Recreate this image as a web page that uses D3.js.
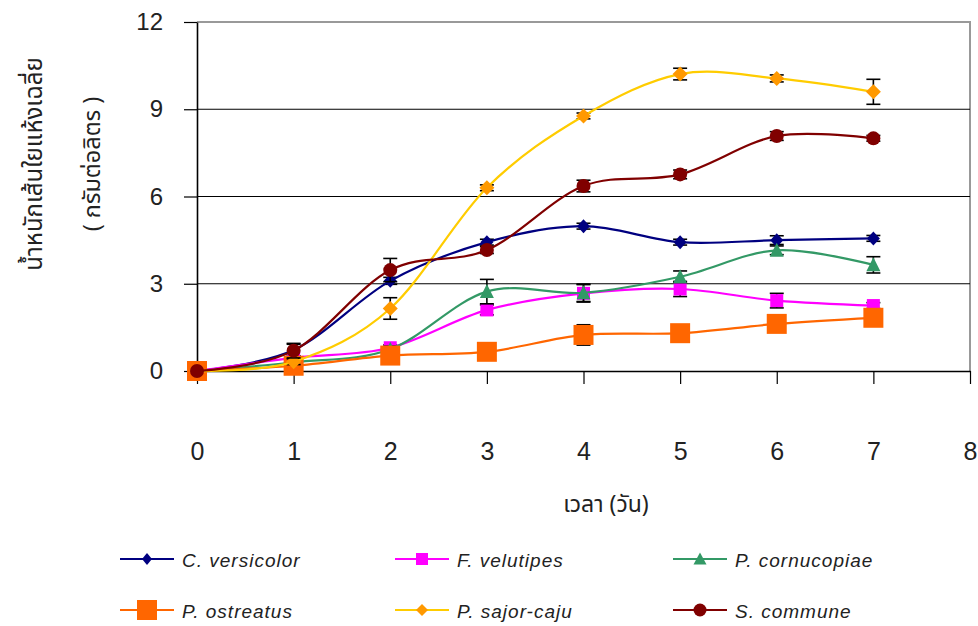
<!DOCTYPE html>
<html>
<head>
<meta charset="utf-8">
<script src="https://cdn.jsdelivr.net/npm/d3@7"></script>
<style>
  body { margin: 0; background: #fff; }
  svg { display: block; }
  .tickLbl { font-family: "Liberation Sans", Arial, sans-serif; fill: #222; }
  .legendTxt { font-family: "Liberation Sans", Arial, sans-serif; font-style: italic; font-size: 19px; letter-spacing: 1px; fill: #222; }
  .thai { font-family: "Noto Sans Thai", "Noto Sans", "DejaVu Sans", sans-serif; fill: #222; }
</style>
</head>
<body>
<div id="chart"></div>
<script>

// days of cultivation
var days = [0, 1, 2, 3, 4, 5, 6, 7];

// mean dry mycelium weight (g/L)
var cVersicolor  = [0, 0.72, 3.10, 4.43, 4.98, 4.43, 4.50, 4.56];
var fVelutipes   = [0, 0.45, 0.80, 2.10, 2.67, 2.82, 2.42, 2.25];
var pCornucopiae = [0, 0.30, 0.75, 2.73, 2.69, 3.24, 4.15, 3.65];
var pOstreatus   = [0, 0.18, 0.53, 0.66, 1.24, 1.30, 1.62, 1.83];
var pSajorCaju   = [0, 0.32, 2.15, 6.30, 8.77, 10.21, 10.06, 9.60];
var sCommune     = [0, 0.70, 3.47, 4.16, 6.36, 6.76, 8.08, 8.00];

// error bar half widths
var cVersicolorErr  = [0, 0.20, 0.12, 0.10, 0.10, 0.10, 0.15, 0.10];
var fVelutipesErr   = [0, 0.05, 0.10, 0.17, 0.30, 0.26, 0.25, 0.10];
var pCornucopiaeErr = [0, 0.05, 0.10, 0.42, 0.30, 0.20, 0.15, 0.28];
var pOstreatusErr   = [0, 0.05, 0.05, 0.05, 0.35, 0.05, 0.10, 0.10];
var pSajorCajuErr   = [0, 0.10, 0.37, 0.10, 0.10, 0.20, 0.12, 0.43];
var sCommuneErr     = [0, 0.25, 0.40, 0.12, 0.20, 0.15, 0.15, 0.10];

var seriesNames = ["C. versicolor", "F. velutipes", "P. cornucopiae", "P. ostreatus", "P. sajor-caju", "S. commune"];

var xTicks = [0, 1, 2, 3, 4, 5, 6, 7, 8];
var yTicks = [0, 3, 6, 9, 12];
var gridTicks = [3, 6, 9];

var xTitle = "เวลา (วัน)";
var yTitle1 = "น้ำหนักเส้นใยแห้งเฉลี่ย";
var yTitle2 = "( กรัมต่อลิตร )";

// styling per series: line colour, marker colour, marker shape, marker size
var styles = [
	{ line: "#000080", fill: "#000080", shape: "diamond", w: 6.5, h: 7, lw: 5, lh: 6 },
	{ line: "#FF00FF", fill: "#FF00FF", shape: "square", w: 6.5, h: 6.5, lw: 6, lh: 6 },
	{ line: "#339966", fill: "#339966", shape: "triangle", w: 7, h: 7.5, lw: 6.5, lh: 6.5 },
	{ line: "#FF6600", fill: "#FF6600", shape: "square", w: 10, h: 10, lw: 10, lh: 10 },
	{ line: "#FFCC00", fill: "#FF9900", shape: "diamond", w: 7.5, h: 7.5, lw: 6, lh: 6 },
	{ line: "#800000", fill: "#800000", shape: "circle", w: 7, h: 7, lw: 6.5, lh: 6.5 }
];

var values = [cVersicolor, fVelutipes, pCornucopiae, pOstreatus, pSajorCaju, sCommune];
var errors = [cVersicolorErr, fVelutipesErr, pCornucopiaeErr, pOstreatusErr, pSajorCajuErr, sCommuneErr];

var series = seriesNames.map(function(name, i) {
	return {
		name: name,
		style: styles[i],
		points: days.map(function(d, j) { return { x: d, y: values[i][j], e: errors[i][j] }; })
	};
});

var W = 978, H = 626;
var plotLeft = 197, plotRight = 970, plotTop = 22, plotBottom = 371; // "top" clashes with window.top

var svg = d3.select("#chart")
	.append("svg")
	.attr("width", W)
	.attr("height", H);

svg.append("rect").attr("width", W).attr("height", H).attr("fill", "#fff");

var xScale = d3.scaleLinear().domain([0, 8]).range([plotLeft, plotRight]);
var yScale = d3.scaleLinear().domain([0, 12]).range([plotBottom, plotTop]);

// plot frame (grey on top / right)
svg.append("path")
	.attr("d", "M" + plotLeft + "," + plotTop + "H" + plotRight + "V" + plotBottom)
	.attr("fill", "none")
	.attr("stroke", "#999")
	.attr("stroke-width", 2);

// grid lines
svg.selectAll("line.grid")
	.data(gridTicks)
	.enter()
	.append("line")
	.attr("class", "grid")
	.attr("x1", plotLeft)
	.attr("x2", plotRight)
	.attr("y1", d => yScale(d))
	.attr("y2", d => yScale(d))
	.attr("stroke", "#000")
	.attr("stroke-width", 1.2);

// axes
var yAxis = svg.append("g")
	.attr("transform", "translate(" + plotLeft + ",0)")
	.call(d3.axisLeft(yScale).tickValues(yTicks).tickSize(13).tickSizeOuter(0).tickPadding(21));

var xAxis = svg.append("g")
	.attr("transform", "translate(0," + plotBottom + ")")
	.call(d3.axisBottom(xScale).tickValues(xTicks).tickSize(13).tickSizeOuter(0).tickPadding(58));

[yAxis, xAxis].forEach(function(ax) {
	ax.select(".domain").attr("stroke", "#000").attr("stroke-width", 1.6);
	ax.selectAll(".tick line").attr("stroke", "#000").attr("stroke-width", 1.2);
	ax.selectAll(".tick text")
		.attr("class", "tickLbl")
		.attr("fill", "#222")
		.style("font-size", "24px");
});
xAxis.selectAll(".tick text").style("font-size", "25px");

// axis titles
svg.append("text")
	.attr("class", "thai")
	.attr("x", 606)
	.attr("y", 512)
	.attr("text-anchor", "middle")
	.style("font-size", "23px")
	.text(xTitle);

svg.append("text")
	.attr("class", "thai")
	.attr("transform", "translate(42,164) rotate(-90)")
	.attr("text-anchor", "middle")
	.style("font-size", "24px")
	.text(yTitle1);

svg.append("text")
	.attr("class", "thai")
	.attr("transform", "translate(100,164) rotate(-90)")
	.attr("text-anchor", "middle")
	.style("font-size", "23.5px")
	.text(yTitle2);

function markerPath(shape, w, h) {
	if (shape == "diamond") {
		return "M0," + (-h) + "L" + w + ",0L0," + h + "L" + (-w) + ",0Z";
	} else if (shape == "square") {
		return "M" + (-w) + "," + (-h) + "H" + w + "V" + h + "H" + (-w) + "Z";
	} else if (shape == "triangle") {
		return "M0," + (-h) + "L" + w + "," + (h * 0.85) + "L" + (-w) + "," + (h * 0.85) + "Z";
	}
	// circle
	return "M" + (-w) + ",0A" + w + "," + w + " 0 1,0 " + w + ",0A" + w + "," + w + " 0 1,0 " + (-w) + ",0Z";
}

var line = d3.line()
	.curve(d3.curveCardinal)
	.x(d => xScale(d.x))
	.y(d => yScale(d.y));

var capW = 7;

series.forEach(function(s) {

	var g = svg.append("g").attr("class", "series");

	//error bars go under the markers
	var eb = g.selectAll("g.err")
		.data(s.points.filter(d => d.e > 0))
		.enter()
		.append("g")
		.attr("class", "err")
		.attr("stroke", "#000")
		.attr("stroke-width", 1.6);

	eb.append("line")
		.attr("x1", d => xScale(d.x)).attr("x2", d => xScale(d.x))
		.attr("y1", d => yScale(d.y + d.e)).attr("y2", d => yScale(d.y - d.e));
	eb.append("line")
		.attr("x1", d => xScale(d.x) - capW).attr("x2", d => xScale(d.x) + capW)
		.attr("y1", d => yScale(d.y + d.e)).attr("y2", d => yScale(d.y + d.e));
	eb.append("line")
		.attr("x1", d => xScale(d.x) - capW).attr("x2", d => xScale(d.x) + capW)
		.attr("y1", d => yScale(d.y - d.e)).attr("y2", d => yScale(d.y - d.e));

	g.append("path")
		.attr("d", line(s.points))
		.attr("fill", "none")
		.attr("stroke", s.style.line)
		.attr("stroke-width", 2.2);

	g.selectAll("path.marker")
		.data(s.points)
		.enter()
		.append("path")
		.attr("class", "marker")
		.attr("transform", d => "translate(" + xScale(d.x) + "," + yScale(d.y) + ")")
		.attr("d", markerPath(s.style.shape, s.style.w, s.style.h))
		.attr("fill", s.style.fill);
});

// legend, 3 columns x 2 rows
var legendX = [120, 395, 673];
var legendY = [559, 610];

var leg = svg.selectAll("g.legend")
	.data(series)
	.enter()
	.append("g")
	.attr("class", "legend")
	.attr("transform", (d, i) => "translate(" + legendX[i % 3] + "," + legendY[Math.floor(i / 3)] + ")");

leg.append("line")
	.attr("x1", 0).attr("x2", 54)
	.attr("y1", 0).attr("y2", 0)
	.attr("stroke", d => d.style.line)
	.attr("stroke-width", 2.2);

leg.append("path")
	.attr("transform", "translate(27,0)")
	.attr("d", d => markerPath(d.style.shape, d.style.lw, d.style.lh))
	.attr("fill", d => d.style.fill);

leg.append("text")
	.attr("class", "legendTxt")
	.attr("x", 62)
	.attr("y", 8)
	.text(d => d.name);

</script>
</body>
</html>
